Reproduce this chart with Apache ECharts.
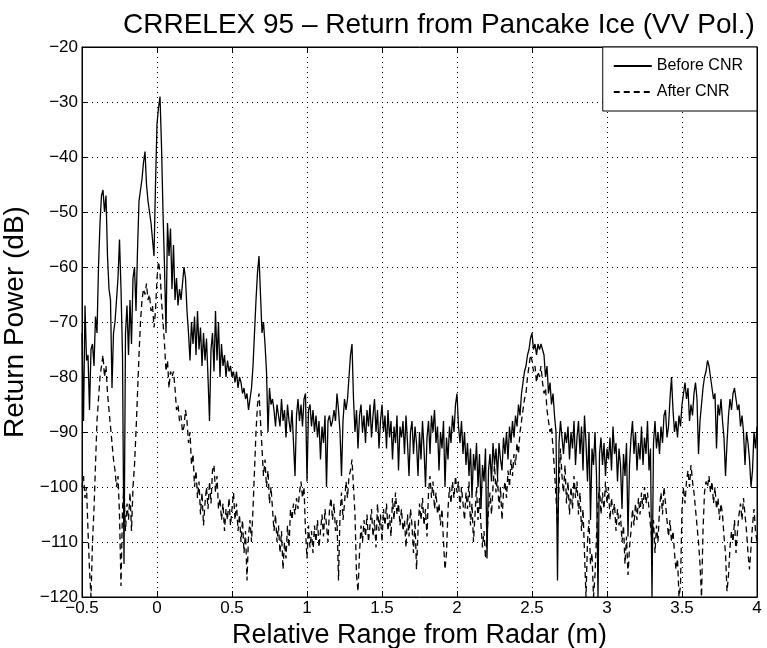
<!DOCTYPE html>
<html><head><meta charset="utf-8">
<script src="https://cdn.jsdelivr.net/npm/echarts@6/dist/echarts.min.js"></script>
<style>html,body{margin:0;padding:0;background:#fff}#c{width:767px;height:648px}</style>
</head><body><div id="c"></div>
<script>
// Sampling grid of the range axis (m)
const rangeStart = -0.5;
const rangeStep = 0.01;

// Return power before clutter/noise removal (dB), one value per 0.01 m from -0.5 to 4.0
const beforeCNR = [
 -72,-88,-67,-77,-76,-86,-75,-74,-78,-69,
 -72,-60,-52,-47,-46,-50,-47,-58,-64,-66,
 -82,-72,-70,-66,-62,-55,-64,-76,-114,-72,
 -67,-76,-66,-74,-62,-60,-68,-57,-48,-46,
 -44,-41,-39,-45,-48,-50,-52,-55,-58,-45,
 -34,-31,-29,-38,-50,-60,-72,-52,-58,-53,
 -64,-56,-66,-62,-67,-64,-66,-63,-60,-62,
 -68,-72,-77,-70,-74,-69,-76,-68,-75,-71,
 -78,-72,-77,-73,-80,-88,-75,-72,-79,-68,
 -77,-70,-80,-74,-78,-76,-80,-77,-79,-78,
 -80,-79,-81,-79,-82,-80,-81,-83,-82,-84,
 -83,-86,-84,-82,-78,-72,-66,-61,-58,-65,
 -72,-70,-74,-79,-90,-82,-85,-84,-86,-89,
 -85,-85,-89,-84,-88,-86,-91,-85,-88,-90,
 -86,-92,-98,-87,-84,-88,-85,-89,-84,-83,
 -99,-86,-85,-89,-86,-90,-87,-91,-88,-95,
 -89,-92,-87,-100,-88,-87,-89,-88,-86,-88,
 -83,-86,-90,-98,-88,-84,-86,-84,-80,-76,
 -74,-84,-90,-86,-93,-87,-85,-90,-87,-92,
 -86,-89,-85,-91,-87,-84,-90,-86,-93,-88,
 -85,-90,-87,-93,-86,-91,-88,-95,-89,-92,
 -87,-97,-89,-91,-88,-94,-87,-92,-98,-90,
 -88,-94,-89,-92,-98,-90,-95,-88,-93,-100,
 -91,-88,-94,-87,-90,-86,-92,-89,-97,-90,
 -93,-88,-100,-91,-95,-89,-92,-87,-90,-85,
 -83,-89,-92,-88,-94,-90,-96,-92,-98,-93,
 -102,-94,-97,-92,-100,-94,-104,-96,-99,-93,
 -113,-97,-94,-99,-92,-96,-93,-98,-92,-95,
 -97,-91,-94,-90,-95,-89,-92,-88,-91,-87,
 -89,-85,-87,-83,-81,-79,-78,-76,-75,-73,
 -72,-75,-74,-76,-74,-75,-74,-75,-76,-80,
 -78,-83,-81,-85,-83,-87,-90,-117,-92,-88,
 -91,-94,-90,-92,-89,-95,-90,-93,-88,-96,
 -91,-88,-94,-89,-97,-87,-92,-99,-90,-106,
 -93,-96,-90,-98,-120,-94,-91,-96,-92,-98,
 -93,-95,-91,-97,-89,-94,-92,-99,-93,-96,
 -104,-94,-98,-92,-109,-96,-91,-88,-94,-90,
 -97,-92,-95,-89,-96,-91,-94,-88,-97,-93,
 -120,-92,-88,-93,-90,-94,-89,-92,-87,-86,
 -91,-89,-84,-80,-86,-90,-88,-91,-87,-89,
 -85,-83,-81,-84,-82,-88,-85,-87,-83,-81,
 -84,-94,-88,-85,-82,-80,-79,-77,-78,-80,
 -82,-84,-83,-93,-85,-87,-84,-88,-91,-98,
 -92,-87,-84,-86,-83,-82,-84,-86,-85,-89,
 -87,-90,-96,-90,-92,-95,-100,-97,-90,-93,
 -89
];

// Return power after CNR (dB), same sampling
const afterCNR = [
 -100,-98,-102,-100,-108,-115,-120,-110,-104,-96,
 -88,-84,-80,-78,-76,-80,-78,-83,-86,-89,
 -92,-95,-97,-100,-98,-105,-118,-104,-100,-108,
 -103,-106,-101,-108,-100,-96,-90,-83,-76,-70,
 -66,-64,-65,-63,-66,-65,-68,-67,-71,-68,
 -62,-59,-61,-66,-70,-74,-79,-77,-82,-79,
 -80,-79,-82,-86,-85,-88,-87,-90,-89,-86,
 -88,-92,-90,-96,-94,-100,-97,-102,-99,-105,
 -101,-107,-103,-100,-104,-99,-103,-97,-96,-101,
 -98,-104,-102,-106,-103,-108,-104,-106,-102,-107,
 -104,-101,-106,-103,-108,-105,-110,-106,-112,-108,
 -117,-109,-106,-110,-104,-97,-90,-85,-83,-88,
 -93,-98,-95,-100,-97,-103,-100,-104,-108,-105,
 -110,-107,-112,-108,-115,-110,-113,-107,-111,-104,
 -106,-103,-105,-102,-104,-101,-99,-102,-100,-108,
 -113,-107,-111,-108,-112,-107,-110,-106,-111,-108,
 -105,-109,-104,-107,-110,-104,-102,-106,-103,-108,
 -106,-117,-105,-101,-106,-103,-99,-102,-98,-97,
 -95,-100,-105,-116,-119,-112,-107,-110,-106,-109,
 -105,-110,-107,-104,-109,-106,-111,-103,-108,-105,
 -110,-104,-107,-103,-108,-105,-109,-102,-106,-101,
 -105,-103,-107,-104,-108,-106,-111,-105,-109,-104,
 -107,-112,-106,-115,-108,-103,-106,-102,-107,-104,
 -109,-101,-98,-102,-99,-104,-101,-105,-103,-107,
 -104,-110,-115,-112,-104,-100,-103,-99,-102,-98,
 -101,-99,-104,-100,-103,-106,-101,-104,-99,-107,
 -103,-110,-105,-100,-106,-102,-107,-111,-108,-113,
 -109,-104,-101,-105,-100,-96,-101,-98,-104,-100,
 -106,-101,-99,-102,-97,-100,-95,-98,-94,-96,
 -92,-94,-90,-88,-86,-84,-83,-80,-78,-76,
 -77,-79,-78,-81,-79,-80,-78,-81,-83,-82,
 -86,-88,-90,-89,-93,-97,-102,-107,-100,-93,
 -98,-101,-96,-103,-99,-105,-100,-104,-98,-102,
 -99,-105,-101,-108,-104,-112,-120,-110,-106,-114,
 -112,-120,-116,-109,-103,-100,-105,-101,-104,-99,
 -103,-100,-106,-102,-105,-103,-108,-104,-107,-105,
 -110,-107,-114,-109,-116,-111,-108,-104,-107,-103,
 -106,-102,-105,-101,-104,-100,-103,-101,-104,-107,
 -110,-106,-112,-107,-110,-104,-101,-105,-100,-103,
 -106,-109,-106,-110,-108,-112,-115,-113,-120,-118,
 -104,-100,-103,-99,-97,-100,-96,-99,-101,-104,
 -107,-110,-114,-120,-108,-101,-99,-100,-98,-101,
 -99,-103,-100,-104,-102,-106,-103,-105,-109,-112,
 -119,-116,-111,-108,-110,-106,-112,-108,-105,-103,
 -106,-102,-105,-108,-112,-115,-111,-107,-104,-108,
 -110
];

const seriesNames = ['Before CNR', 'After CNR'];
const xMin = -0.5, xMax = 4, xStep = 0.5;
const yMin = -120, yMax = -20, yStep = 10;

function toPairs(vals) {
  return vals.map((v, i) => [Math.round((rangeStart + i * rangeStep) * 100) / 100, v]);
}

const FONT = '"Liberation Sans", Arial, Helvetica, sans-serif';
const fmt = v => String(Math.round(v * 10) / 10).replace('-', '\u2212');

const chart = echarts.init(document.getElementById('c'), null, {renderer: 'canvas'});
const gridLine = {show: true, lineStyle: {color: '#000', type: [1, 4], width: 1}};
const tick = {show: true, inside: true, length: 6, lineStyle: {color: '#000'}};
const axLine = {show: true, onZero: false, lineStyle: {color: '#000', width: 1}};
chart.setOption({
  animation: false,
  backgroundColor: '#fff',
  title: {
    text: 'CRRELEX 95 \u2013 Return from Pancake Ice (VV Pol.)',
    left: 118, top: 6,
    textStyle: {fontFamily: FONT, fontSize: 28, fontWeight: 'normal', color: '#000'}
  },
  grid: {left: 82, right: 10, top: 47, bottom: 51, show: true, borderColor: '#000', borderWidth: 1,
         backgroundColor: '#fff', containLabel: false, outerBoundsMode: 'none'},
  legend: {
    data: seriesNames,
    right: 10, top: 47,
    orient: 'vertical',
    backgroundColor: '#fff',
    borderColor: '#000', borderWidth: 1,
    padding: [11, 14, 11, 10],
    itemGap: 10,
    itemWidth: 38, itemHeight: 10,
    borderRadius: 0,
    itemStyle: {opacity: 0},
    textStyle: {fontFamily: FONT, fontSize: 16, color: '#000'}
  },
  xAxis: [{
    type: 'value', min: xMin, max: xMax, interval: xStep,
    name: 'Relative Range from Radar (m)', nameLocation: 'middle', nameGap: 25,
    nameTextStyle: {fontFamily: FONT, fontSize: 27, color: '#000'},
    axisLine: axLine, axisTick: tick,
    axisLabel: {fontFamily: FONT, fontSize: 17, color: '#000', margin: 3, formatter: fmt},
    splitLine: gridLine
  }, {
    type: 'value', min: xMin, max: xMax, interval: xStep, position: 'top',
    axisLine: axLine, axisTick: tick,
    axisLabel: {show: false}, splitLine: {show: false}
  }],
  yAxis: [{
    type: 'value', min: yMin, max: yMax, interval: yStep,
    name: 'Return Power (dB)', nameLocation: 'middle', nameGap: 46,
    nameTextStyle: {fontFamily: FONT, fontSize: 28, color: '#000'},
    axisLine: axLine, axisTick: tick,
    axisLabel: {fontFamily: FONT, fontSize: 17, color: '#000', margin: 4, formatter: fmt},
    splitLine: gridLine
  }, {
    type: 'value', min: yMin, max: yMax, interval: yStep, position: 'right',
    axisLine: axLine, axisTick: tick,
    axisLabel: {show: false}, splitLine: {show: false}
  }],
  series: [{
    name: seriesNames[0], type: 'line', data: toPairs(beforeCNR),
    symbol: 'none', showSymbol: false, smooth: false,
    lineStyle: {color: '#000', width: 1.3, type: 'solid'},
    itemStyle: {color: '#000'}, z: 3
  }, {
    name: seriesNames[1], type: 'line', data: toPairs(afterCNR),
    symbol: 'none', showSymbol: false, smooth: false,
    lineStyle: {color: '#000', width: 1.3, type: [6, 4]},
    itemStyle: {color: '#000'}, z: 2
  }]
});
</script>
</body></html>
